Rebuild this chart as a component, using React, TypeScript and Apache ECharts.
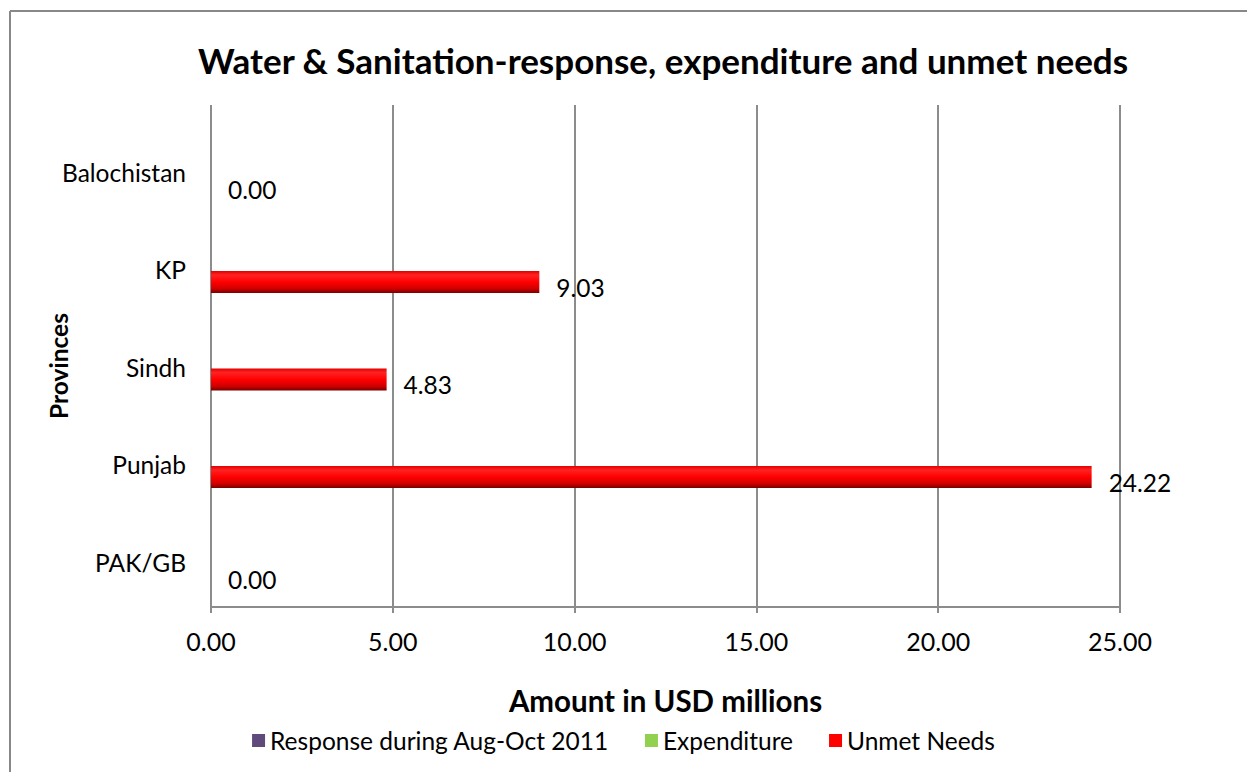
import React, { useEffect, useRef } from "react";
import * as echarts from "echarts";

const categories = ["PAK/GB", "Punjab", "Sindh", "KP", "Balochistan"];
const responseValues = [0, 0, 0, 0, 0];
const expenditureValues = [0, 0, 0, 0, 0];
const unmetValues = [0.0, 24.22, 4.83, 9.03, 0.0];
const xTicks = [0, 5, 10, 15, 20, 25];

const FONT = "Lato, 'Open Sans', sans-serif";
const GRID_LEFT = 211;
const GRID_RIGHT = 1247 - 1120;

export default function App() {
  const ref = useRef<HTMLDivElement>(null);
  useEffect(() => {
    if (!ref.current) return;
    document.body.style.margin = "0";
    document.body.style.overflow = "hidden";
    const chart = echarts.init(ref.current, undefined, { renderer: "svg" });
    const barGradient = new echarts.graphic.LinearGradient(0, 0, 0, 1, [
      { offset: 0, color: "#e00000" },
      { offset: 0.18, color: "#ff2222" },
      { offset: 0.5, color: "#ff0000" },
      { offset: 0.8, color: "#d00000" },
      { offset: 1, color: "#780000" },
    ]);
    const hiddenX = (gridIndex: number) => ({
      gridIndex,
      type: "value",
      min: xTicks[0],
      max: xTicks[xTicks.length - 1],
      show: false,
      splitLine: { show: false },
    });
    chart.setOption({
      animation: false,
      backgroundColor: "#ffffff",
      textStyle: { fontFamily: FONT, color: "#000" },
      title: {
        text: "Water & Sanitation-response, expenditure and unmet needs",
        left: 658,
        textAlign: "center",
        top: 37,
        textStyle: { fontFamily: FONT, fontSize: 35, fontWeight: "bold", color: "#000" },
      },
      legend: {
        bottom: 14,
        left: "center",
        itemWidth: 13,
        itemHeight: 13,
        itemGap: 36,
        icon: "rect",
        textStyle: { fontFamily: FONT, fontSize: 24.5, color: "#000" },
        data: [
          { name: "Response during Aug-Oct 2011", itemStyle: { color: "#604a7b" } },
          { name: "Expenditure", itemStyle: { color: "#92d050" } },
          { name: "Unmet Needs", itemStyle: { color: "#ff0000" } },
        ],
      },
      graphic: [
        {
          type: "line",
          shape: { x1: 10, y1: 11, x2: 1247, y2: 11 },
          style: { stroke: "#888888", lineWidth: 2 },
          silent: true,
        },
        {
          type: "line",
          shape: { x1: 10, y1: 11, x2: 10, y2: 772 },
          style: { stroke: "#888888", lineWidth: 2 },
          silent: true,
        },
        {
          type: "text",
          x: 58,
          y: 366,
          rotation: Math.PI / 2,
          style: {
            text: "Provinces",
            fontFamily: FONT,
            fontSize: 24.5,
            fontWeight: "bold",
            fill: "#000",
            align: "center",
            verticalAlign: "middle",
          },
        },
      ],
      grid: [
        { left: GRID_LEFT, right: GRID_RIGHT, top: 105, height: 502 },
        { left: GRID_LEFT, right: GRID_RIGHT, top: 135.75, height: 487.5 },
        { left: GRID_LEFT, right: GRID_RIGHT, top: 123.25, height: 487.5 },
      ],
      xAxis: [
        {
          gridIndex: 0,
          type: "value",
          min: xTicks[0],
          max: xTicks[xTicks.length - 1],
          interval: 5,
          axisLine: { show: true, lineStyle: { color: "#8c8c8c", width: 2 } },
          axisTick: { show: true, length: 6, lineStyle: { color: "#8c8c8c", width: 2 } },
          splitLine: { show: true, lineStyle: { color: "#8c8c8c", width: 2 } },
          axisLabel: {
            fontFamily: FONT,
            fontSize: 25,
            color: "#000",
            margin: 21,
            formatter: (v: number) => v.toFixed(2),
          },
          name: "Amount in USD millions",
          nameLocation: "middle",
          nameGap: 78,
          nameTextStyle: { fontFamily: FONT, fontSize: 29.5, fontWeight: "bold", color: "#000" },
        },
        hiddenX(1),
        hiddenX(2),
      ],
      yAxis: [
        {
          gridIndex: 0,
          type: "category",
          data: categories,
          axisLine: { show: false },
          axisTick: { show: false },
          axisLabel: { show: false },
          splitLine: { show: false },
        },
        {
          gridIndex: 1,
          type: "category",
          data: categories,
          axisLine: { show: false },
          axisTick: { show: false },
          axisLabel: { show: false },
          splitLine: { show: false },
        },
        {
          gridIndex: 2,
          type: "category",
          data: categories,
          axisLine: { show: false },
          axisTick: { show: false },
          splitLine: { show: false },
          axisLabel: {
            fontFamily: FONT,
            fontSize: 24.5,
            color: "#000",
            margin: 25,
          },
        },
      ],
      series: [
        {
          name: "Response during Aug-Oct 2011",
          type: "bar",
          xAxisIndex: 1,
          yAxisIndex: 1,
          data: responseValues,
          barWidth: 22,
          barGap: "-100%",
          itemStyle: { color: "#604a7b" },
        },
        {
          name: "Expenditure",
          type: "bar",
          xAxisIndex: 1,
          yAxisIndex: 1,
          data: expenditureValues,
          barWidth: 22,
          barGap: "-100%",
          itemStyle: { color: "#92d050" },
        },
        {
          name: "Unmet Needs",
          type: "bar",
          xAxisIndex: 1,
          yAxisIndex: 1,
          data: unmetValues,
          barWidth: 22,
          barGap: "-100%",
          itemStyle: { color: barGradient },
          label: {
            show: true,
            position: "right",
            distance: 17,
            offset: [0, 5],
            fontFamily: FONT,
            fontSize: 24.5,
            color: "#000",
            formatter: (p: any) => Number(p.value).toFixed(2),
          },
        },
      ],
    });
    return () => chart.dispose();
  }, []);
  return (
    <div
      ref={ref}
      style={{ position: "fixed", left: 0, top: 0, width: 1247, height: 772, background: "#fff" }}
    />
  );
}
